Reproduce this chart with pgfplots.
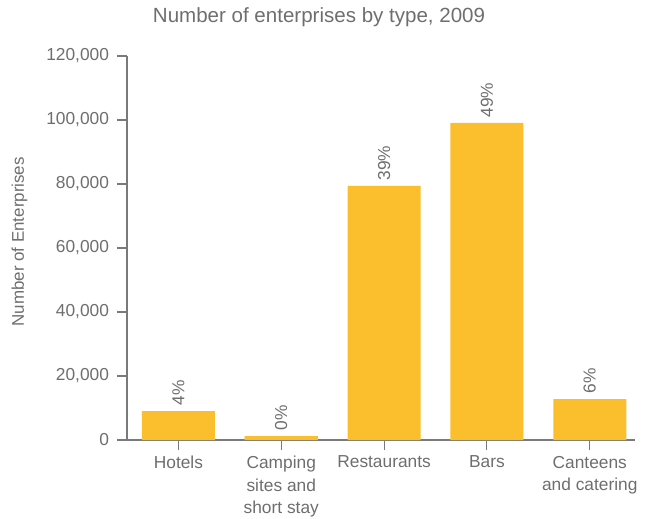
\documentclass[border=0pt]{standalone}
\usepackage{fontspec}
\setmainfont{Liberation Sans}
\usepackage{pgfplots}
\pgfplotsset{compat=1.18}
\usepackage{pgfplotstable}
\definecolor{barcol}{HTML}{FBBF2E}
\definecolor{txt}{HTML}{6E6E6E}
\definecolor{axc}{HTML}{7A7A7A}
\pgfplotstableread{
x y lab
0 9000 4
1 1200 0
2 79400 39
3 99100 49
4 12800 6
}\datatable
\begin{document}
\begin{tikzpicture}
\begin{axis}[
  scale only axis,
  width=381pt, height=288pt,
  xmin=-0.5, xmax=4.44, ymin=0, ymax=120000,
  axis lines*=left,
  axis line style={axc, line width=0.8pt},
  tick style={axc, line width=0.8pt},
  major tick length=7.5pt,
  tick align=outside,
  xtick={0,1,2,3,4},
  xticklabels={Hotels,{Camping\\sites and\\short stay},Restaurants,Bars,{Canteens\\and catering}},
  xticklabel style={align=center, font=\fontsize{13}{17}\selectfont, text=txt, yshift=-1pt},
  ytick={0,20000,40000,60000,80000,100000,120000},
  yticklabels={0,{20,000},{40,000},{60,000},{80,000},{100,000},{120,000}},
  scaled y ticks=false,
  yticklabel style={font=\fontsize{13}{15}\selectfont, text=txt, xshift=-2.5pt},
  ylabel={Number of Enterprises},
  ylabel style={at={(axis description cs:-0.2116,0.516)}, anchor=center, font=\fontsize{12.7}{15}\selectfont, text=txt},
  title={Number of enterprises by type, 2009},
  title style={at={(axis description cs:0.378,1.079)}, anchor=center, yshift=0pt, font=\fontsize{15.4}{18}\selectfont, text=txt},
  clip=false,
]
\addplot[ybar, bar width=0.71, fill=barcol, draw=none,
  point meta=explicit symbolic,
  nodes near coords={\pgfplotspointmeta\%},
  nodes near coords style={rotate=90, anchor=west, font=\fontsize{13}{15}\selectfont, text=txt, inner sep=4pt},
] table[x=x, y=y, meta=lab] {\datatable};
\end{axis}
\pgfresetboundingbox
\path[use as bounding box] ([xshift=-95.25pt,yshift=-58.5pt]current axis.south west) rectangle ([xshift=9.75pt,yshift=42pt]current axis.north east);
\end{tikzpicture}
\end{document}
